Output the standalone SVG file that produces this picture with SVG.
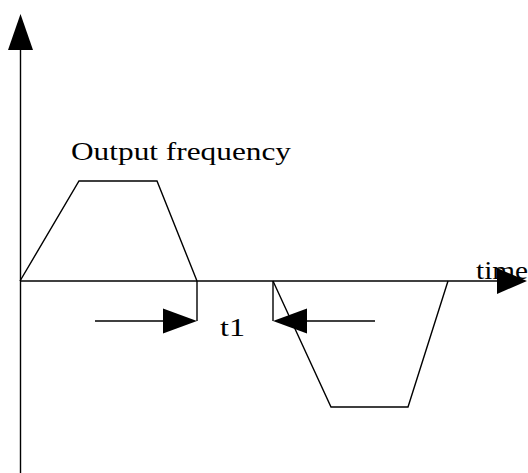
<svg xmlns="http://www.w3.org/2000/svg" width="528" height="473" viewBox="0 0 528 473">
<style>
.ln{fill:none;stroke:#000;stroke-width:1.4}
.ah{fill:#000;stroke:none}
.tx{font-family:"Liberation Serif","Noto Sans CJK SC",serif;font-size:26px;fill:#000}
</style>
<rect width="528" height="473" fill="#fff"/>
<g id="axes">
<line class="ln" x1="20.5" y1="40" x2="20.5" y2="473"/>
<polygon class="ah" points="20.5,14 8,50 33,50"/>
<line class="ln" x1="20" y1="281" x2="505" y2="281"/>
<polygon class="ah" points="527,281 497,268 497,294"/>
</g>
<g id="curve">
<polyline class="ln" points="20,281 79,181 157,181 197,281"/>
<polyline class="ln" points="273,281 331,407 408,407 448,281"/>
</g>
<g id="markers">
<line class="ln" x1="197" y1="281" x2="197" y2="321"/>
<line class="ln" x1="273" y1="281" x2="273" y2="321"/>
<line class="ln" x1="95" y1="321" x2="165" y2="321"/>
<polygon class="ah" points="197,321 163,308.5 163,333.5"/>
<line class="ln" x1="305" y1="321" x2="375" y2="321"/>
<polygon class="ah" points="273,321 307,308.5 307,333.5"/>
</g>
<g id="labels">
<text class="tx" x="71" y="160" textLength="220" lengthAdjust="spacingAndGlyphs">Output frequency</text>
<text class="tx" x="476" y="279" textLength="52" lengthAdjust="spacingAndGlyphs">time</text>
<text class="tx" x="220" y="336" textLength="25" lengthAdjust="spacingAndGlyphs">t1</text>
</g>
</svg>
